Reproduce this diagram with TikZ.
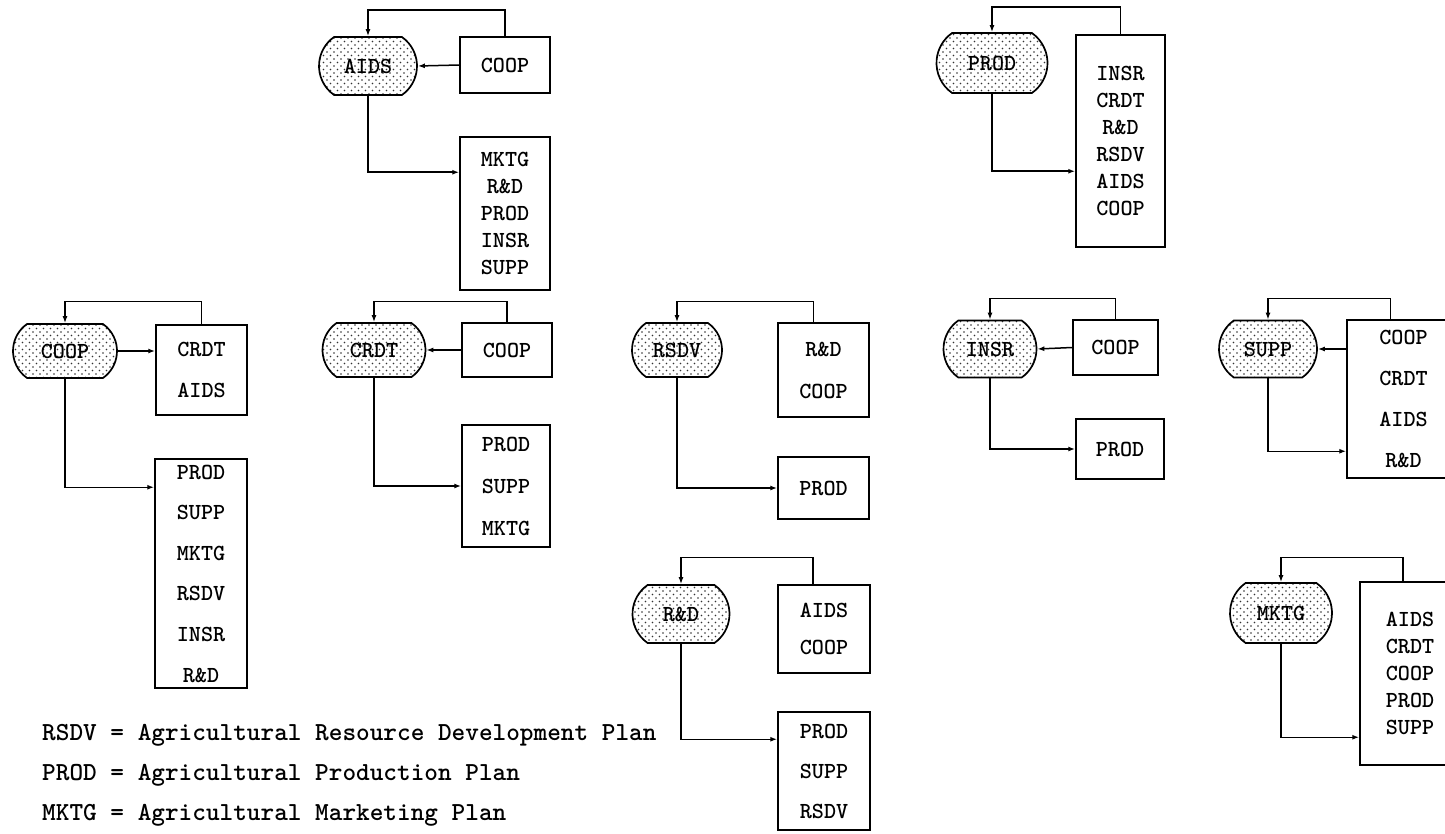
\documentclass[tikz,border=0pt]{standalone}
\usepackage{fontspec}
\setmainfont{lmmonolt10-bold.otf}
\usetikzlibrary{arrows.meta,shapes.misc,patterns}
\pgfdeclarepatternformonly{stipple}{\pgfpoint{-1pt}{-1pt}}{\pgfpoint{8pt}{8pt}}{\pgfpoint{7pt}{7pt}}{%
  \pgfpathcircle{\pgfpoint{1.5pt}{1.5pt}}{0.8pt}%
  \pgfpathcircle{\pgfpoint{5pt}{5pt}}{0.8pt}%
  \pgfusepath{fill}}
\begin{document}
\begin{tikzpicture}[x=1pt,y=-1pt,
  plan/.style={draw, line width=1.7pt, rounded rectangle, rounded rectangle arc length=110,
    pattern=stipple, pattern color=black!80, inner sep=0pt, font=\fontsize{23}{26}\selectfont},
  lst/.style={draw, line width=1.5pt, rectangle, inner sep=0pt, align=center},
  conn/.style={line width=1.5pt},
  arr/.style={conn, -{Latex[length=7pt,width=5pt]}},
  legend/.style={anchor=west, inner sep=0pt, font=\fontsize{26}{30}\selectfont}]
\useasboundingbox (0,0) rectangle (1445,834);
\clip (0,0) rectangle (1445,834);

% ---------- COOP group ----------
\node[plan, minimum width=104pt, minimum height=54pt] (pCOOP) at (65,351) {COOP};
\node[lst, minimum width=91pt, minimum height=90pt, font=\fontsize{23}{41}\selectfont] (bCOOP1) at (201.5,370) {CRDT\\AIDS};
\node[lst, minimum width=92pt, minimum height=229pt, font=\fontsize{23}{40.6}\selectfont] (bCOOP2) at (201,573.5) {PROD\\SUPP\\MKTG\\RSDV\\INSR\\R\&D};
\draw[arr] (bCOOP1.north) -- ++(0,-23) -| (pCOOP.north);
\draw[arr] (pCOOP.east) -- (pCOOP.east -| bCOOP1.west);
\draw[arr] (pCOOP.south) |- ([yshift=-29pt]bCOOP2.north west);

% ---------- AIDS group ----------
\node[plan, minimum width=98pt, minimum height=58pt] (pAIDS) at (368,66) {AIDS};
\node[lst, minimum width=90pt, minimum height=56pt, font=\fontsize{23}{26}\selectfont] (bAIDS1) at (505,65) {COOP};
\node[lst, minimum width=90pt, minimum height=153pt, font=\fontsize{23}{27}\selectfont] (bAIDS2) at (505,213.5) {MKTG\\R\&D\\PROD\\INSR\\SUPP};
\draw[arr] (bAIDS1.north) -- ++(0,-26) -| (pAIDS.north);
\draw[arr] (bAIDS1.west) -- (pAIDS.east);
\draw[arr] (pAIDS.south) |- ([yshift=-36pt]bAIDS2.north west);

% ---------- CRDT group ----------
\node[plan, minimum width=103pt, minimum height=54pt] (pCRDT) at (374,350) {CRDT};
\node[lst, minimum width=90pt, minimum height=54pt, font=\fontsize{23}{26}\selectfont] (bCRDT1) at (507,350) {COOP};
\node[lst, minimum width=88pt, minimum height=122pt, font=\fontsize{23}{42}\selectfont] (bCRDT2) at (506,486) {PROD\\SUPP\\MKTG};
\draw[arr] (bCRDT1.north) -- ++(0,-21) -| (pCRDT.north);
\draw[arr] (bCRDT1.west) -- (pCRDT.east);
\draw[arr] (pCRDT.south) |- (bCRDT2.west);

% ---------- RSDV group ----------
\node[plan, minimum width=90pt, minimum height=54pt] (pRSDV) at (677,350) {RSDV};
\node[lst, minimum width=91pt, minimum height=94pt, font=\fontsize{23}{42}\selectfont] (bRSDV1) at (823.5,370) {R\&D\\COOP};
\node[lst, minimum width=91pt, minimum height=62pt, font=\fontsize{23}{26}\selectfont] (bRSDV2) at (823.5,488) {PROD};
\draw[arr] ([xshift=-10pt]bRSDV1.north) -- ++(0,-21) -| (pRSDV.north);
\draw[arr] (pRSDV.south) |- (bRSDV2.west);

% ---------- R&D group ----------
\node[plan, minimum width=97pt, minimum height=58pt] (pRD) at (681,614) {R\&D};
\node[lst, minimum width=92pt, minimum height=88pt, font=\fontsize{23}{37}\selectfont] (bRD1) at (824,629) {AIDS\\COOP};
\node[lst, minimum width=92pt, minimum height=118pt, font=\fontsize{23}{40}\selectfont] (bRD2) at (824,771) {PROD\\SUPP\\RSDV};
\draw[arr] ([xshift=-11pt]bRD1.north) -- ++(0,-27) -| (pRD.north);
\draw[arr] (pRD.south) |- ([yshift=-28pt]bRD2.north west);

% ---------- PROD group ----------
\node[plan, minimum width=111pt, minimum height=60pt] (pPROD) at (992,63) {PROD};
\node[lst, minimum width=89pt, minimum height=212pt, font=\fontsize{23}{27}\selectfont] (bPROD) at (1120.5,141) {INSR\\CRDT\\R\&D\\RSDV\\AIDS\\COOP};
\draw[arr] (bPROD.north) -- ++(0,-27) -| (pPROD.north);
\draw[arr] (pPROD.south) |- ([yshift=-137pt]bPROD.north west);

% ---------- INSR group ----------
\node[plan, minimum width=93pt, minimum height=57pt] (pINSR) at (990,349) {INSR};
\node[lst, minimum width=85pt, minimum height=55pt, font=\fontsize{23}{26}\selectfont] (bINSR1) at (1115.5,347.5) {COOP};
\node[lst, minimum width=88pt, minimum height=60pt, font=\fontsize{23}{26}\selectfont] (bINSR2) at (1120,449) {PROD};
\draw[arr] (bINSR1.north) -- ++(0,-21) -| (pINSR.north);
\draw[arr] (bINSR1.west) -- (pINSR.east);
\draw[arr] (pINSR.south) |- (bINSR2.west);

% ---------- SUPP group ----------
\node[plan, minimum width=98pt, minimum height=57pt] (pSUPP) at (1268,349) {SUPP};
\node[lst, minimum width=113pt, minimum height=158pt, font=\fontsize{23}{40.7}\selectfont] (bSUPP) at (1403.5,399) {COOP\\CRDT\\AIDS\\R\&D};
\draw[arr] ([xshift=-13pt]bSUPP.north) -- ++(0,-21) -| (pSUPP.north);
\draw[arr] (bSUPP.west |- pSUPP.east) -- (pSUPP.east);
\draw[arr] (pSUPP.south) |- ([yshift=-132pt]bSUPP.north west);

% ---------- MKTG group ----------
\node[plan, minimum width=102pt, minimum height=60pt] (pMKTG) at (1281,613) {MKTG};
\node[lst, minimum width=100pt, minimum height=183pt, font=\fontsize{23}{27}\selectfont] (bMKTG) at (1410,673.5) {AIDS\\CRDT\\COOP\\PROD\\SUPP};
\draw[arr] ([xshift=-7pt]bMKTG.north) -- ++(0,-24) -| (pMKTG.north);
\draw[arr] (pMKTG.south) |- ([yshift=-156pt]bMKTG.north west);

% ---------- legend ----------
\node[legend] (l1) at (42,735) {RSDV = Agricultural Resource Development Plan};
\node[legend] (l2) at (42,775) {PROD = Agricultural Production Plan};
\node[legend] (l3) at (42,815) {MKTG = Agricultural Marketing Plan};
\end{tikzpicture}
\end{document}
